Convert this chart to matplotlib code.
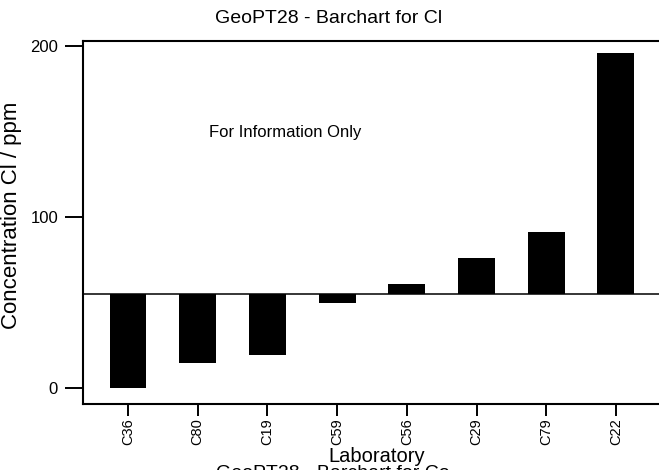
import matplotlib
matplotlib.use("Agg")
import matplotlib.pyplot as plt

labs = ["C36", "C80", "C19", "C59", "C56", "C29", "C79", "C22"]
values = [0.0, 14.8, 19.3, 49.5, 60.8, 75.8, 91.3, 195.5]
assigned = 55.2
yticks = [0, 100, 200]

plt.rcParams['font.family'] = ['Liberation Sans', 'DejaVu Sans']

W, H = 659, 470
fig = plt.figure(figsize=(W / 100, H / 100), dpi=100)

left_px, right_px, top_px, bottom_px = 83, 672, 41, 404
ax = fig.add_axes([left_px / W, 1 - bottom_px / H,
                   (right_px - left_px) / W, (bottom_px - top_px) / H])

x = list(range(len(labs)))
heights = [v - assigned for v in values]
ax.bar(x, heights, bottom=assigned, width=0.53, color='black', edgecolor='none')
ax.axhline(assigned, color='black', lw=1.1)

spacing = 69.7
x0 = -(128 - left_px) / spacing
ax.set_xlim(x0, x0 + (right_px - left_px) / spacing)
ax.set_ylim(-9.35, 202.75)

ax.set_xticks(x)
ax.set_xticklabels(labs, rotation=90, fontsize=10.5)
ax.set_yticks(yticks)
ax.set_yticklabels([str(t) for t in yticks], fontsize=12)

ax.tick_params(axis='y', length=13, width=1.4, pad=5, direction='out')
ax.tick_params(axis='x', length=8.5, width=1.4, pad=2, direction='out')

for s in ['left', 'top', 'bottom']:
    ax.spines[s].set_linewidth(1.5)
ax.spines['right'].set_visible(False)

fig.text(12 / W, 1 - 215 / H, "Concentration Cl / ppm", fontsize=16,
         rotation=90, ha='center', va='center')

fig.text(329 / W, 1 - 23 / H, "GeoPT28 - Barchart for Cl", fontsize=14,
         ha='center', va='baseline')
fig.text(377 / W, 1 - 462 / H, "Laboratory", fontsize=14.5,
         ha='center', va='baseline')
fig.text(285 / W, 1 - 133 / H, "For Information Only", fontsize=12,
         ha='center', va='center')
fig.text(333 / W, 1 - 478 / H, "GeoPT28 - Barchart for Co", fontsize=14,
         ha='center', va='baseline')

fig.savefig("out.png", dpi=100)
